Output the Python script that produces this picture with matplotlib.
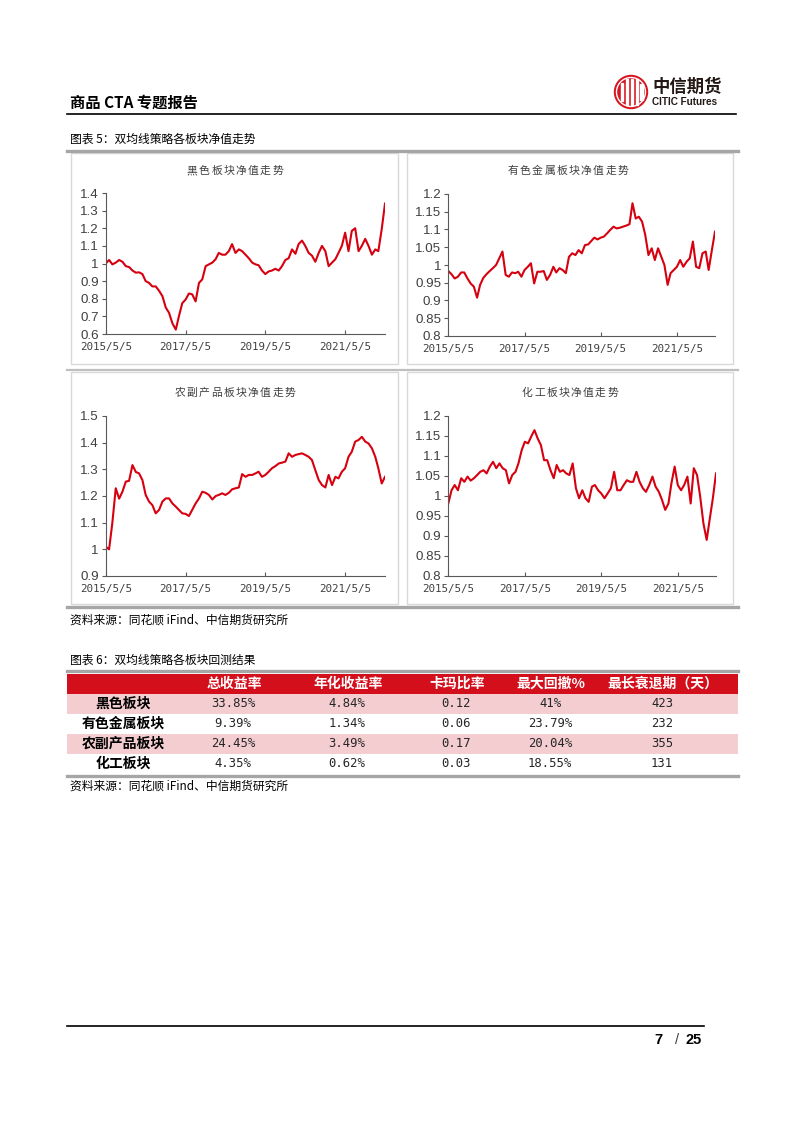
import matplotlib
matplotlib.use('Agg')
import matplotlib.pyplot as plt
import numpy as np
import pandas as pd
from matplotlib.patches import Rectangle, Circle
from matplotlib.ticker import FuncFormatter, FixedLocator

plt.rcParams['font.family'] = ['Noto Sans CJK SC', 'DejaVu Sans']

W, H = 802, 1133

# ---------------- data ----------------
dates = pd.date_range('2015-05-05', periods=85, freq=pd.DateOffset(months=1))
tick_dates = pd.to_datetime(['2015-05-05', '2017-05-05', '2019-05-05', '2021-05-05'])
tick_labels = ['2015/5/5', '2017/5/5', '2019/5/5', '2021/5/5']

black = [1.00, 1.02, 0.995, 1.005, 1.02, 1.01, 0.985, 0.98, 0.96, 0.948,
         0.95, 0.94, 0.90, 0.89, 0.87, 0.87, 0.845, 0.815, 0.75, 0.72,
         0.66, 0.625, 0.70, 0.775, 0.795, 0.83, 0.825, 0.785, 0.89, 0.91,
         0.985, 0.995, 1.005, 1.025, 1.06, 1.05, 1.05, 1.07, 1.11, 1.06,
         1.08, 1.07, 1.05, 1.03, 1.005, 0.995, 0.99, 0.96, 0.94, 0.955,
         0.96, 0.97, 0.96, 0.985, 1.02, 1.03, 1.08, 1.055, 1.11, 1.13,
         1.10, 1.06, 1.045, 1.01, 1.06, 1.10, 1.07, 0.985, 1.005, 1.025,
         1.06, 1.10, 1.175, 1.07, 1.185, 1.20, 1.07, 1.10, 1.14, 1.10,
         1.05, 1.08, 1.07, 1.195, 1.34]

nonferrous = [0.983, 0.974, 0.962, 0.967, 0.979, 0.979, 0.962, 0.948, 0.939, 0.908,
              0.944, 0.964, 0.974, 0.983, 0.991, 1.00, 1.019, 1.038, 0.972, 0.967,
              0.979, 0.977, 0.981, 0.967, 0.986, 0.995, 1.005, 0.948, 0.981, 0.981,
              0.983, 0.958, 0.972, 0.995, 0.979, 0.991, 0.986, 0.977, 1.023, 1.033,
              1.028, 1.042, 1.033, 1.056, 1.058, 1.068, 1.077, 1.072, 1.077, 1.08,
              1.089, 1.099, 1.108, 1.103, 1.105, 1.108, 1.111, 1.115, 1.174, 1.131,
              1.136, 1.122, 1.085, 1.028, 1.047, 1.014, 1.047, 1.024, 1.00, 0.944,
              0.977, 0.986, 0.995, 1.014, 0.995, 1.009, 1.019, 1.066, 0.995, 0.991,
              1.033, 1.038, 0.986, 1.042, 1.094]

agri = [1.01, 1.00, 1.10, 1.229, 1.19, 1.216, 1.254, 1.257, 1.316, 1.29,
        1.285, 1.26, 1.204, 1.179, 1.166, 1.135, 1.148, 1.179, 1.191, 1.191,
        1.172, 1.16, 1.148, 1.135, 1.133, 1.125, 1.148, 1.172, 1.191, 1.216,
        1.212, 1.204, 1.187, 1.20, 1.204, 1.21, 1.204, 1.212, 1.225, 1.229,
        1.232, 1.282, 1.272, 1.279, 1.279, 1.285, 1.291, 1.272, 1.279, 1.291,
        1.304, 1.312, 1.322, 1.325, 1.329, 1.36, 1.347, 1.354, 1.357, 1.36,
        1.354, 1.347, 1.335, 1.297, 1.26, 1.241, 1.232, 1.279, 1.241, 1.272,
        1.266, 1.291, 1.304, 1.347, 1.366, 1.404, 1.41, 1.422, 1.404, 1.397,
        1.379, 1.347, 1.304, 1.247, 1.272]

chem = [0.981, 1.014, 1.027, 1.014, 1.044, 1.035, 1.048, 1.038, 1.044, 1.052,
        1.06, 1.064, 1.056, 1.073, 1.085, 1.069, 1.081, 1.069, 1.064, 1.031,
        1.052, 1.06, 1.081, 1.114, 1.135, 1.131, 1.148, 1.164, 1.143, 1.127,
        1.089, 1.089, 1.064, 1.044, 1.077, 1.06, 1.064, 1.056, 1.052, 1.081,
        1.019, 0.994, 1.014, 0.994, 0.985, 1.023, 1.027, 1.014, 1.006, 0.994,
        1.006, 1.019, 1.06, 1.014, 1.014, 1.027, 1.039, 1.035, 1.035, 1.06,
        1.035, 1.019, 1.010, 1.027, 1.048, 1.023, 1.010, 0.99, 0.965, 0.981,
        1.031, 1.073, 1.027, 1.014, 1.027, 1.048, 0.981, 1.069, 1.052, 0.998,
        0.931, 0.89, 0.94, 0.994, 1.056]

chart_titles = ['黑色板块净值走势', '有色金属板块净值走势', '农副产品板块净值走势', '化工板块净值走势']

sectors = ['黑色板块', '有色金属板块', '农副产品板块', '化工板块']
headers = ['总收益率', '年化收益率', '卡玛比率', '最大回撤%', '最长衰退期（天）']
total_ret = ['33.85%', '9.39%', '24.45%', '4.35%']
ann_ret = ['4.84%', '1.34%', '3.49%', '0.62%']
calmar = ['0.12', '0.06', '0.17', '0.03']
max_dd = ['41%', '23.79%', '20.04%', '18.55%']
longest = ['423', '232', '355', '131']

# ---------------- figure ----------------
fig = plt.figure(figsize=(W / 100, H / 100), dpi=100)
fig.patch.set_facecolor('white')
bg = fig.add_axes([0, 0, 1, 1])
bg.set_xlim(0, W)
bg.set_ylim(H, 0)
bg.axis('off')

RED = '#d40f1c'
GRAY_LINE = '#a6a6a6'

# header
bg.text(70, 103, '商品 CTA 专题报告', fontsize=11, fontweight='bold', va='center', ha='left')
bg.plot([67, 736], [114, 114], color='black', lw=1.2)
# logo
bg.add_patch(Circle((631, 92), 16.5, color='#d7141f'))
for dx, hh in [(-9, 9), (-4, 13), (1, 13), (6, 13), (10.5, 8)]:
    bg.add_patch(Rectangle((631 + dx - 1.2, 92 - hh), 2.4, 2 * hh, color='white'))
bg.add_patch(Circle((631, 92), 14.5, fill=False, ec='white', lw=1.0))
bg.text(652, 87, '中信期货', fontsize=12.5, fontweight='bold', color='#231815', va='center', ha='left')
bg.text(652, 102, 'CITIC Futures', fontsize=7.2, fontweight='bold', color='#231815', va='center', ha='left',
        family=['Liberation Sans'])

# figure 5 caption
bg.text(70, 139, '图表 5：双均线策略各板块净值走势', fontsize=8.5, va='center', ha='left')
bg.plot([67, 738], [151, 151], color=GRAY_LINE, lw=2.4)
bg.plot([67, 738], [369.5, 369.5], color='#bfbfbf', lw=1.6)
bg.plot([67, 738], [607, 607], color=GRAY_LINE, lw=2.4)
for (x0, y0, x1, y1) in [(71, 153, 398, 364), (407, 153, 733, 364), (71, 372, 398, 604), (407, 372, 733, 604)]:
    bg.add_patch(Rectangle((x0, y0), x1 - x0, y1 - y0, fill=False, ec='#d9d9d9', lw=1.0))
bg.text(70, 620, '资料来源：同花顺 iFind、中信期货研究所', fontsize=8.5, va='center', ha='left')

# ---------------- charts ----------------
def make_ax(x0, y0, x1, y1):
    return fig.add_axes([x0 / W, 1 - y1 / H, (x1 - x0) / W, (y1 - y0) / H])

def spaced_title(text, xc, yc, spacing=12.2):
    n = len(text)
    for k, ch in enumerate(text):
        bg.text(xc + (k - (n - 1) / 2) * spacing, yc, ch, fontsize=7.8, color='#404040',
                ha='center', va='center')

specs = [
    (black, (105.7, 193, 385, 334), (0.6, 1.4), 0.1, (235, 171)),
    (nonferrous, (448.3, 194, 715, 336), (0.8, 1.2), 0.05, (568, 171)),
    (agri, (105.7, 416, 385, 576), (0.9, 1.5), 0.1, (235, 393)),
    (chem, (448.3, 415.7, 716, 576), (0.8, 1.2), 0.05, (570, 393)),
]

fmt = FuncFormatter(lambda v, p: f'{round(v, 3):g}')
for (series, box, ylim, step, tpos), title in zip(specs, chart_titles):
    ax = make_ax(*box)
    ax.set_facecolor('none')
    ax.plot(dates, series, color='#d6000f', lw=1.5, solid_joinstyle='round')
    ax.set_xlim(dates[0], dates[-1])
    ax.set_ylim(*ylim)
    n = int(round((ylim[1] - ylim[0]) / step))
    ax.yaxis.set_major_locator(FixedLocator([ylim[0] + i * step for i in range(n + 1)]))
    ax.yaxis.set_major_formatter(fmt)
    ax.set_xticks(tick_dates)
    ax.set_xticklabels(tick_labels, family=['DejaVu Sans Mono'], fontsize=7.8, color='#404040')
    for s in ['top', 'right']:
        ax.spines[s].set_visible(False)
    for s in ['left', 'bottom']:
        ax.spines[s].set_color('#595959')
        ax.spines[s].set_linewidth(0.8)
    ax.tick_params(axis='y', direction='out', length=3, width=0.8, color='#595959',
                   labelsize=9.6, labelcolor='#404040', pad=2)
    ax.tick_params(axis='x', direction='in', length=3, width=0.8, color='#595959', pad=6)
    for lab in ax.get_yticklabels():
        lab.set_family(['Liberation Sans'])
    spaced_title(title, tpos[0], tpos[1])

# ---------------- table ----------------
bg.text(70, 660, '图表 6：双均线策略各板块回测结果', fontsize=8.5, va='center', ha='left')
bg.plot([67, 738], [671, 671], color=GRAY_LINE, lw=2.4)
bg.add_patch(Rectangle((67, 674), 671, 19.5, color=RED, lw=0))
row_top = 693.5
row_h = 20
for i in range(len(sectors)):
    if i % 2 == 0:
        bg.add_patch(Rectangle((67, row_top + i * row_h), 671, row_h, color='#f3cdd0', lw=0))
bg.plot([67, 738], [775.5, 775.5], color=GRAY_LINE, lw=2.4)

col_x = [234, 348, 457, 551, 663]
for x, h in zip(col_x, headers):
    bg.text(x, 684, h, fontsize=10, fontweight='bold', color='white', ha='center', va='center')
columns = [total_ret, ann_ret, calmar, max_dd, longest]
for i, name in enumerate(sectors):
    yc = row_top + i * row_h + row_h / 2
    bg.text(123, yc, name, fontsize=10, fontweight='bold', color='black', ha='center', va='center')
    for x, col in zip(col_x, columns):
        bg.text(x - 1, yc, col[i], fontsize=8.8, color='#262626', ha='center', va='center',
                family=['DejaVu Sans Mono'])
bg.text(70, 786, '资料来源：同花顺 iFind、中信期货研究所', fontsize=8.5, va='center', ha='left')

# footer
bg.plot([67, 704], [1025.7, 1025.7], color='black', lw=1.2)
bg.text(658, 1040, '7', fontsize=10.5, fontweight='bold', ha='center', va='center', family=['Liberation Sans'])
bg.text(677, 1040, '/', fontsize=10.5, ha='center', va='center', family=['Liberation Sans'], color='#404040')
bg.text(694, 1040, '25', fontsize=10.5, fontweight='bold', ha='center', va='center', family=['Liberation Sans'])

fig.savefig('out.png', dpi=100, facecolor='white')
